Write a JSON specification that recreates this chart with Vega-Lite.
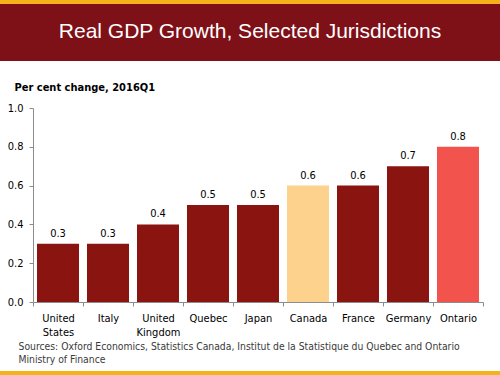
{
  "$schema": "https://vega.github.io/schema/vega-lite/v6.json",
  "padding": 0,
  "spacing": 0,
  "background": "white",
  "config": {
    "view": {"stroke": null},
    "font": "DejaVu Sans Condensed"
  },
  "vconcat": [
    {
      "width": 500,
      "height": 4,
      "view": {"fill": "#F6B21B", "stroke": null},
      "data": {"values": []},
      "mark": {"type": "text"},
      "encoding": {"text": {"field": "t", "type": "nominal"}}
    },
    {
      "width": 500,
      "height": 57,
      "view": {"fill": "#7E1018", "stroke": null},
      "data": {"values": [{"t": "Real GDP Growth, Selected Jurisdictions"}]},
      "mark": {"type": "text", "color": "white", "fontSize": 21, "font": "Liberation Sans", "baseline": "middle", "dy": -1},
      "encoding": {"text": {"field": "t"}}
    },
    {
      "width": 500,
      "height": 310,
      "data": {
        "values": [
          {"country": "United States", "value": 0.3, "group": "other"},
          {"country": "Italy", "value": 0.3, "group": "other"},
          {"country": "United Kingdom", "value": 0.4, "group": "other"},
          {"country": "Quebec", "value": 0.5, "group": "other"},
          {"country": "Japan", "value": 0.5, "group": "other"},
          {"country": "Canada", "value": 0.6, "group": "Canada"},
          {"country": "France", "value": 0.6, "group": "other"},
          {"country": "Germany", "value": 0.7, "group": "other"},
          {"country": "Ontario", "value": 0.8, "group": "Ontario"}
        ]
      },
      "encoding": {
        "x": {
          "field": "country",
          "type": "nominal",
          "sort": null,
          "scale": {"range": [33, 483], "paddingInner": 0, "paddingOuter": 0},
          "axis": {
            "orient": "bottom",
            "offset": -69,
            "tickBand": "extent",
            "tickSize": 4,
            "tickColor": "#8c8c8c",
            "domainColor": "#8c8c8c",
            "labelAngle": 0,
            "labelExpr": "split(datum.label, ' ')",
            "labelFontSize": 11,
            "labelColor": "#000",
            "labelPadding": 6,
            "labelLineHeight": 14,
            "labelBaseline": "top",
            "title": ["Sources: Oxford Economics, Statistics Canada, Institut de la Statistique du Quebec and Ontario", "Ministry of Finance"],
            "titleX": 18,
            "titleY": 39,
            "titleAlign": "left",
            "titleAnchor": "start",
            "titleBaseline": "top",
            "titleFontSize": 10.3,
            "titleFontWeight": "normal",
            "titleColor": "#3a3a3a",
            "titleLineHeight": 13
          }
        },
        "y": {
          "field": "value",
          "type": "quantitative",
          "scale": {"domain": [0, 1], "range": [241, 47]},
          "axis": {
            "orient": "left",
            "offset": -33,
            "values": [0, 0.2, 0.4, 0.6, 0.8, 1.0],
            "format": ".1f",
            "grid": false,
            "tickSize": 4,
            "tickColor": "#8c8c8c",
            "domainColor": "#8c8c8c",
            "labelFontSize": 11,
            "labelColor": "#000",
            "labelPadding": 6,
            "title": "Per cent change, 2016Q1",
            "titleAngle": 0,
            "titleX": -19,
            "titleY": 26,
            "titleAlign": "left",
            "titleBaseline": "middle",
            "titleFontSize": 11,
            "titleFontWeight": "bold",
            "titleColor": "#000"
          }
        }
      },
      "layer": [
        {
          "mark": {"type": "bar", "width": {"band": 0.84}},
          "encoding": {
            "color": {
              "field": "group",
              "type": "nominal",
              "scale": {"domain": ["other", "Canada", "Ontario"], "range": ["#8A140F", "#FDD28C", "#F2534C"]},
              "legend": null
            }
          }
        },
        {
          "mark": {"type": "text", "baseline": "bottom", "dy": -5, "fontSize": 11, "color": "#000"},
          "encoding": {"text": {"field": "value", "type": "quantitative", "format": ".1f"}}
        }
      ]
    },
    {
      "width": 500,
      "height": 4,
      "view": {"fill": "#F6B21B", "stroke": null},
      "data": {"values": []},
      "mark": {"type": "text"},
      "encoding": {"text": {"field": "t", "type": "nominal"}}
    }
  ]
}
